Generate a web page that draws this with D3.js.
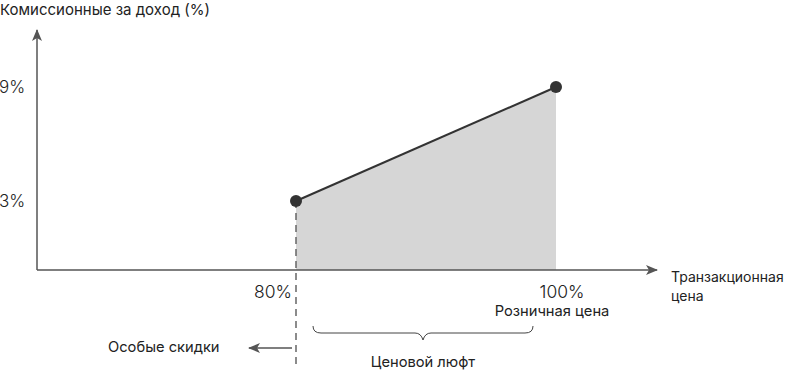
<!DOCTYPE html>
<html>
<head>
<meta charset="utf-8">
<script src="https://cdn.jsdelivr.net/npm/d3@7"></script>
<style>
  body { margin: 0; background: #fff; }
  text { font-family: Inter, Roboto, "Noto Sans", sans-serif; fill: #222; }
</style>
</head>
<body>
<div id="chart"></div>
<script>
// Data
const pricePoints = [80, 100];          // transaction price, % of retail
const commissionValues = [3, 9];        // commission, % of revenue
const xTickLabels = ['80%', '100%'];
const yTickLabels = ['9%', '3%'];
const yTickValues = [9, 3];

const width = 790, height = 372;

const svg = d3.select('#chart')
    .append('svg')
    .attr('width', width)
    .attr('height', height);

const x = d3.scaleLinear().domain([80, 100]).range([296, 556]);
const y = d3.scaleLinear().domain([3, 9]).range([201, 87]);

const axisX0 = 37, axisY0 = 270;
const axisColor = '#555';

// Arrow markers
const defs = svg.append('defs');
defs.append('marker')
    .attr('id', 'arrow')
    .attr('viewBox', '0 0 12 10')
    .attr('refX', 11)
    .attr('refY', 5)
    .attr('markerWidth', 12)
    .attr('markerHeight', 10)
    .attr('markerUnits', 'userSpaceOnUse')
    .attr('orient', 'auto')
    .append('path')
    .attr('d', 'M0,0 L12,5 L0,10 L3,5 Z')
    .attr('fill', axisColor);

// Shaded area
const pts = pricePoints.map((p, i) => ({ p, v: commissionValues[i] }));
const area = d3.area()
    .x(d => x(d.p))
    .y0(axisY0)
    .y1(d => y(d.v));
svg.append('path')
    .datum(pts)
    .attr('d', area)
    .attr('fill', '#d6d6d6');

// Axes
svg.append('line')
    .attr('x1', axisX0).attr('y1', axisY0)
    .attr('x2', 657).attr('y2', axisY0)
    .attr('stroke', axisColor).attr('stroke-width', 1.5)
    .attr('marker-end', 'url(#arrow)');
svg.append('line')
    .attr('x1', axisX0).attr('y1', axisY0)
    .attr('x2', axisX0).attr('y2', 30)
    .attr('stroke', axisColor).attr('stroke-width', 1.5)
    .attr('marker-end', 'url(#arrow)');

// Dashed line at 80%
svg.append('line')
    .attr('x1', x(80)).attr('y1', y(3))
    .attr('x2', x(80)).attr('y2', 364)
    .attr('stroke', '#666').attr('stroke-width', 1.5)
    .attr('stroke-dasharray', '7,5');

// Line + dots
svg.append('path')
    .datum(pts)
    .attr('d', d3.line().x(d => x(d.p)).y(d => y(d.v)))
    .attr('fill', 'none')
    .attr('stroke', '#333')
    .attr('stroke-width', 2);
svg.selectAll('circle.dot')
    .data(pts)
    .enter()
    .append('circle')
    .attr('class', 'dot')
    .attr('cx', d => x(d.p))
    .attr('cy', d => y(d.v))
    .attr('r', 6)
    .attr('fill', '#333');

// Tick labels
svg.selectAll('text.ytick')
    .data(yTickValues)
    .enter()
    .append('text')
    .attr('class', 'ytick')
    .attr('x', -1)
    .attr('y', d => y(d))
    .attr('dy', '0.35em')
    .attr('font-size', 17)
    .attr('font-weight', 300)
    .text((d, i) => yTickLabels[i]);

svg.selectAll('text.xtick')
    .data(pricePoints)
    .enter()
    .append('text')
    .attr('class', 'xtick')
    .attr('x', (d, i) => i === 0 ? x(d) - 4 : x(d) + 6)
    .attr('y', 292)
    .attr('dy', '0.35em')
    .attr('text-anchor', (d, i) => i === 0 ? 'end' : 'middle')
    .attr('font-size', 17.5)
    .attr('font-weight', 300)
    .text((d, i) => xTickLabels[i]);

// Titles
svg.append('text')
    .attr('x', 0).attr('y', 10).attr('dy', '0.35em')
    .attr('font-size', 15)
    .text('Комиссионные за доход (%)');
svg.append('text')
    .attr('x', 671).attr('y', 277).attr('dy', '0.35em')
    .attr('font-size', 14)
    .text('Транзакционная');
svg.append('text')
    .attr('x', 671).attr('y', 296).attr('dy', '0.35em')
    .attr('font-size', 14)
    .text('цена');
svg.append('text')
    .attr('x', x(100) - 4).attr('y', 311).attr('dy', '0.35em')
    .attr('text-anchor', 'middle')
    .attr('font-size', 14.7)
    .text('Розничная цена');

// Brace for price gap
const bx0 = 313, bx1 = 533, by = 333, bmid = (bx0 + bx1) / 2;
svg.append('path')
    .attr('d', `M${bx0},${by - 7} Q${bx0},${by} ${bx0 + 8},${by} L${bmid - 8},${by} Q${bmid - 2},${by} ${bmid},${by + 7} Q${bmid + 2},${by} ${bmid + 8},${by} L${bx1 - 8},${by} Q${bx1},${by} ${bx1},${by - 7}`)
    .attr('fill', 'none')
    .attr('stroke', '#444')
    .attr('stroke-width', 1);
svg.append('text')
    .attr('x', bmid).attr('y', 362).attr('dy', '0.35em')
    .attr('text-anchor', 'middle')
    .attr('font-size', 14.7)
    .text('Ценовой люфт');

// Special discounts arrow
svg.append('line')
    .attr('x1', 292).attr('y1', 348)
    .attr('x2', 249).attr('y2', 348)
    .attr('stroke', axisColor).attr('stroke-width', 1.5)
    .attr('marker-end', 'url(#arrow)');
svg.append('text')
    .attr('x', 108).attr('y', 347).attr('dy', '0.35em')
    .attr('font-size', 14.7)
    .text('Особые скидки');
</script>
</body>
</html>
